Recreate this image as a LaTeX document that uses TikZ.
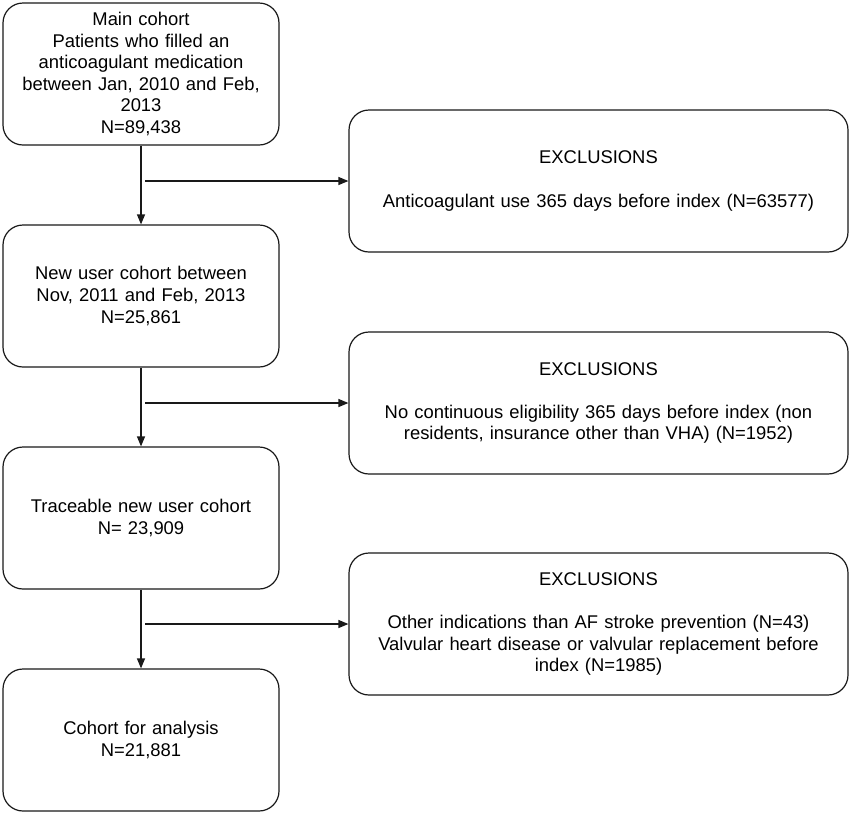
\documentclass[tikz,border=0pt]{standalone}
\usepackage{fontspec}
\setmainfont{Liberation Sans}
\usetikzlibrary{arrows.meta}
\begin{document}
\begin{tikzpicture}[x=1pt,y=-1pt,
  box/.style={draw=black!90, line width=1.2pt, rounded corners=20pt, align=center,
    font=\fontsize{18.4}{21.6}\selectfont, minimum height=142pt, inner sep=0pt},
  leftbox/.style={box, minimum width=276pt, text width=266pt},
  rightbox/.style={box, minimum width=499pt, text width=486pt},
  conn/.style={line width=1.2pt, draw=black!90, -{Triangle[length=10pt,width=8pt]}}
]
\useasboundingbox (0,0) rectangle (851,815);
\node[leftbox] (b1) at (141,74) {Main cohort\\Patients who filled an\\anticoagulant medication\\between Jan, 2010 and Feb,\\2013\\N=89,438};
\node[leftbox] (b2) at (141,296) {New user cohort between\\Nov, 2011 and Feb, 2013\\N=25,861};
\node[leftbox] (b3) at (141,518) {Traceable new user cohort\\N= 23,909};
\node[leftbox] (b4) at (141,740) {Cohort for analysis\\N=21,881};
\node[rightbox] (r1) at (598.5,181) {EXCLUSIONS\\[21.6pt]Anticoagulant use 365 days before index (N=63577)};
\node[rightbox] (r2) at (598.5,403) {EXCLUSIONS\\[21.6pt]No continuous eligibility 365 days before index (non\\residents, insurance other than VHA) (N=1952)};
\node[rightbox] (r3) at (598.5,624) {EXCLUSIONS\\[21.6pt]Other indications than AF stroke prevention (N=43)\\Valvular heart disease or valvular replacement before\\index (N=1985)};
\coordinate (s1) at (145,181);
\coordinate (s2) at (145,403);
\coordinate (s3) at (145,624);
\draw[conn] (b1.south) -- (b2.north);
\draw[conn] (b2.south) -- (b3.north);
\draw[conn] (b3.south) -- (b4.north);
\draw[conn] (s1) -- (r1.west);
\draw[conn] (s2) -- (r2.west);
\draw[conn] (s3) -- (r3.west);
\end{tikzpicture}
\end{document}
